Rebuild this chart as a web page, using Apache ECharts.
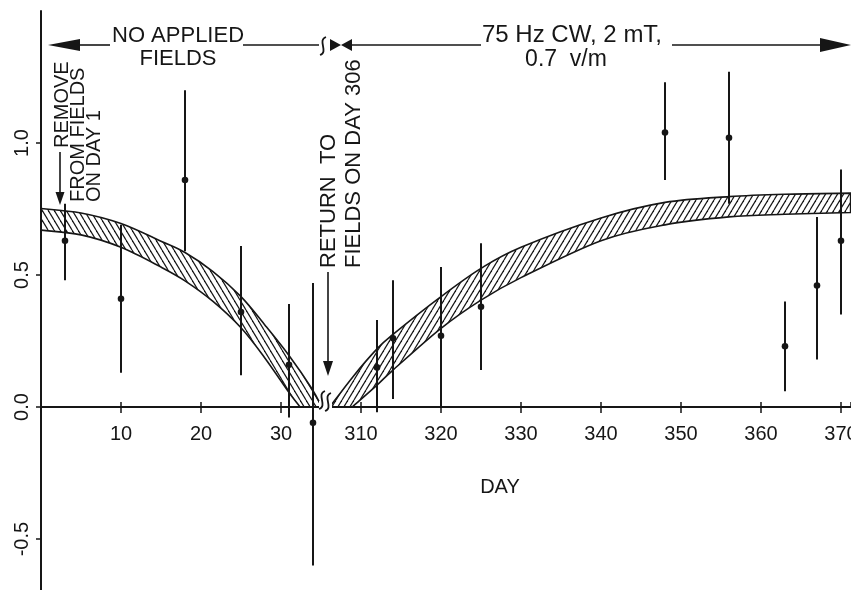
<!DOCTYPE html>
<html>
<head>
<meta charset="utf-8">
<title>Day plot</title>
<script src="https://cdn.jsdelivr.net/npm/echarts@6/dist/echarts.min.js"></script>
<style>
  html, body { margin: 0; padding: 0; background: #fff; }
  #main { width: 851px; height: 590px; }
</style>
</head>
<body>
<div id="main"></div>
<script>
// days after the break (306+) are drawn shifted left by SHIFT so both parts share one axis
var SHIFT = 270;
var FONT = "'Liberation Sans', Arial, sans-serif";
var INK = '#161616';

// measured points with error bars
var days  = [3, 10, 18, 25, 31, 34, 312, 314, 320, 325, 348, 356, 363, 367, 370];
var means = [0.63, 0.41, 0.86, 0.36, 0.16, -0.06, 0.15, 0.26, 0.27, 0.38, 1.04, 1.02, 0.23, 0.46, 0.63];
var lows  = [0.48, 0.13, 0.59, 0.12, -0.04, -0.60, -0.02, 0.03, 0.0, 0.14, 0.86, 0.77, 0.06, 0.18, 0.35];
var highs = [0.77, 0.69, 1.20, 0.61, 0.39, 0.47, 0.33, 0.48, 0.53, 0.62, 1.23, 1.27, 0.40, 0.72, 0.90];

// hatched band before the break (no applied fields)
var bandAUpperDays = [0, 5, 10, 15, 18, 21.5, 25, 28, 31, 33.8, 35.1];
var bandAUpper     = [0.752, 0.735, 0.695, 0.628, 0.585, 0.513, 0.418, 0.31, 0.195, 0.072, 0];
var bandALowerDays = [0, 5, 10, 15, 18, 21.5, 25, 28, 31, 32.4];
var bandALower     = [0.670, 0.652, 0.605, 0.53, 0.478, 0.40, 0.30, 0.185, 0.055, 0];

// hatched band after return to fields on day 306
var bandBUpperDays = [306.1, 309, 312, 314, 320, 325, 330, 340, 348, 356, 363, 371.2];
var bandBUpper     = [0, 0.115, 0.22, 0.275, 0.418, 0.525, 0.605, 0.716, 0.775, 0.797, 0.806, 0.81];
var bandBLowerDays = [308.9, 312, 314, 320, 325, 330, 340, 348, 356, 363, 371.2];
var bandBLower     = [0, 0.083, 0.14, 0.298, 0.405, 0.49, 0.63, 0.69, 0.72, 0.73, 0.737];

var yTicksTop = [0, 0.5, 1.0];
var yTicksBottom = [-0.5];

function toAxis(d) { return d > 200 ? d - SHIFT : d; }

function hatch(dir) {
  var w = 6, h = 10;
  var c = document.createElement('canvas');
  c.width = w; c.height = h;
  var g = c.getContext('2d');
  g.strokeStyle = INK; g.lineWidth = 1.2;
  for (var k = -1; k <= 1; k++) {
    g.beginPath();
    if (dir > 0) { g.moveTo(k * w, h); g.lineTo(k * w + w, 0); }
    else { g.moveTo(k * w, 0); g.lineTo(k * w + w, h); }
    g.stroke();
  }
  return c;
}

// catmull-rom through the read points, as cubic bezier path commands
function spline(pts, cmd) {
  var s = cmd + pts[0][0] + ' ' + pts[0][1];
  for (var i = 0; i < pts.length - 1; i++) {
    var p0 = pts[i - 1] || pts[i], p1 = pts[i], p2 = pts[i + 1], p3 = pts[i + 2] || p2;
    s += ' C' + (p1[0] + (p2[0] - p0[0]) / 6) + ' ' + (p1[1] + (p2[1] - p0[1]) / 6) + ' ' +
         (p2[0] - (p3[0] - p1[0]) / 6) + ' ' + (p2[1] - (p3[1] - p1[1]) / 6) + ' ' + p2[0] + ' ' + p2[1];
  }
  return s;
}

function bandSeries(upDays, up, loDays, lo, dir) {
  return {
    type: 'custom',
    silent: true,
    z: 2,
    data: [[toAxis(upDays[0]), up[0]]],
    renderItem: function (params, api) {
      var top = upDays.map(function (d, i) { return api.coord([toAxis(d), up[i]]); });
      var bot = loDays.map(function (d, i) { return api.coord([toAxis(d), lo[i]]); }).reverse();
      return {
        type: 'path',
        shape: { pathData: spline(top, 'M') + ' ' + spline(bot, 'L') + ' Z' },
        style: { fill: { image: hatch(dir), repeat: 'repeat' }, stroke: INK, lineWidth: 1.6 }
      };
    }
  };
}

var points = days.map(function (d, i) { return [toAxis(d), means[i], lows[i], highs[i]]; });

// error bars, split over the positive (top) and negative (bottom) grids
function barSeries(idx, yMin, yMax) {
  return {
    type: 'custom',
    silent: true,
    z: 5,
    xAxisIndex: idx, yAxisIndex: idx,
    data: points,
    renderItem: function (params, api) {
      var x = api.value(0), m = api.value(1);
      var lo = Math.max(api.value(2), yMin), hi = Math.min(api.value(3), yMax);
      var kids = [];
      if (hi > lo) {
        var a = api.coord([x, lo]), b = api.coord([x, hi]);
        kids.push({ type: 'line', shape: { x1: a[0], y1: a[1], x2: b[0], y2: b[1] }, style: { stroke: INK, lineWidth: 2 } });
      }
      if (m >= yMin && m <= yMax) {
        var c = api.coord([x, m]);
        kids.push({ type: 'circle', shape: { cx: c[0], cy: c[1], r: 3.3 }, style: { fill: INK } });
      }
      return { type: 'group', children: kids };
    }
  };
}

function txt(x, y, s, size, align, rot) {
  return {
    type: 'text', x: x, y: y, z: 100, rotation: rot || 0,
    style: { text: s, font: size + 'px ' + FONT, fill: INK, textAlign: align || 'center', textVerticalAlign: 'middle' }
  };
}
function seg(x1, y1, x2, y2, w) {
  return { type: 'line', z: 100, shape: { x1: x1, y1: y1, x2: x2, y2: y2 }, style: { stroke: INK, lineWidth: w || 1.6 } };
}
function tri(p) {
  return { type: 'polygon', z: 100, shape: { points: p }, style: { fill: INK } };
}
function squiggle(x, y) {
  return { type: 'bezierCurve', z: 101,
    shape: { x1: x - 3, y1: y + 9, cpx1: x + 6, cpy1: y + 6, cpx2: x - 6, cpy2: y - 6, x2: x + 3, y2: y - 9 },
    style: { stroke: INK, lineWidth: 1.8, fill: null } };
}

var xCommon = {
  type: 'value', min: 0, max: 101.25, interval: 10,
  splitLine: { show: false }
};
var tickStyle = { color: INK, width: 1.5 };
var yLine = { lineStyle: { color: INK, width: 2 } };
var yTick = { length: 5, lineStyle: tickStyle };
var yLabel = { rotate: 90, margin: 9, color: INK, fontSize: 20, fontFamily: FONT,
  formatter: function (v) { return v.toFixed(1); } };

var chart = echarts.init(document.getElementById('main'));

var option = {
  backgroundColor: '#fff',
  animation: false,
  grid: [
    { left: 41, right: 0, top: 11, height: 396, outerBoundsMode: 'none' },
    { left: 41, right: 0, top: 407, height: 185, outerBoundsMode: 'none' }
  ],
  xAxis: [
    Object.assign({}, xCommon, {
      gridIndex: 0,
      axisLine: { onZero: false, lineStyle: { color: INK, width: 2 } },
      axisTick: { length: 6, lineStyle: tickStyle },
      axisLabel: {
        margin: 17, color: INK, fontSize: 20, fontFamily: FONT, showMaxLabel: false,
        formatter: function (v) { return v <= 0 ? '' : String(v > 35 ? v + SHIFT : v); }
      }
    }),
    // only supplies the upper half of the crossing ticks on the zero line
    Object.assign({}, xCommon, {
      gridIndex: 1, position: 'top',
      axisLine: { show: false, onZero: false },
      axisTick: { length: 5, lineStyle: tickStyle },
      axisLabel: { show: false }
    })
  ],
  yAxis: [
    {
      gridIndex: 0, type: 'value', min: 0, max: 1.5,
      splitLine: { show: false }, axisLine: yLine,
      axisTick: Object.assign({ customValues: yTicksTop }, yTick),
      axisLabel: Object.assign({ customValues: yTicksTop }, yLabel)
    },
    {
      gridIndex: 1, type: 'value', min: -0.7, max: 0,
      splitLine: { show: false }, axisLine: yLine,
      axisTick: Object.assign({ customValues: yTicksBottom }, yTick),
      axisLabel: Object.assign({ customValues: yTicksBottom }, yLabel)
    }
  ],
  series: [
    bandSeries(bandAUpperDays, bandAUpper, bandALowerDays, bandALower, -1),
    bandSeries(bandBUpperDays, bandBUpper, bandBLowerDays, bandBLower, 1),
    barSeries(0, 0, 1.5),
    barSeries(1, -0.7, 0)
  ],
  graphic: [
    // top period annotation
    tri([[48, 45], [80, 39], [80, 51]]),
    seg(80, 45, 110, 45),
    txt(112, 36, 'NO APPLIED', 22, 'left'),
    txt(178, 59, 'FIELDS', 22),
    seg(243, 45, 319, 45),
    squiggle(323, 46),
    tri([[330, 39], [330, 51], [341, 45]]),
    tri([[352, 39], [352, 51], [341, 45]]),
    seg(352, 45, 481, 45),
    txt(482, 35, '75 Hz CW, 2 mT,', 24, 'left'),
    txt(566, 60, '0.7  v/m', 23),
    seg(672, 45, 822, 45),
    tri([[851, 45], [820, 38], [820, 52]]),
    // removal note
    txt(62, 148, 'REMOVE', 20, 'left', Math.PI / 2),
    txt(78.5, 202, 'FROM FIELDS', 20, 'left', Math.PI / 2),
    txt(94, 202, 'ON DAY 1', 20, 'left', Math.PI / 2),
    seg(60, 152, 60, 195),
    tri([[60, 205], [55.5, 192], [64.5, 192]]),
    // return note
    txt(328.5, 268, 'RETURN  TO', 22, 'left', Math.PI / 2),
    txt(354, 268, 'FIELDS ON DAY 306', 22, 'left', Math.PI / 2),
    seg(328, 272, 328, 365),
    tri([[328, 376], [323, 361], [333, 361]]),
    // axis break
    { type: 'rect', z: 100, shape: { x: 319, y: 401, width: 13, height: 12 }, style: { fill: '#fff' } },
    squiggle(322, 400),
    squiggle(328, 402),
    txt(500, 487, 'DAY', 20)
  ]
};

chart.setOption(option);
window.onresize = chart.resize;
</script>
</body>
</html>
